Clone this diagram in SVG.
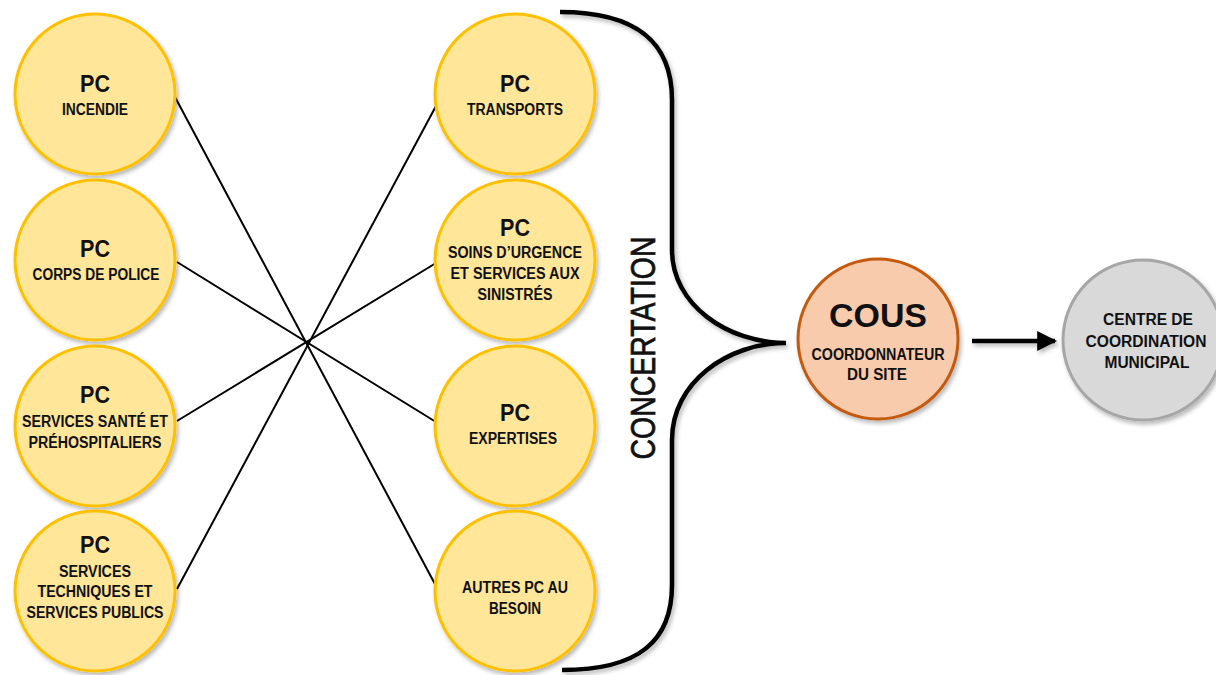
<svg xmlns="http://www.w3.org/2000/svg" width="1216" height="675" viewBox="0 0 1216 675">
  <defs>
    <filter id="shadow" x="-20%" y="-20%" width="140%" height="140%">
      <feDropShadow dx="2" dy="3" stdDeviation="2" flood-color="#000" flood-opacity="0.28"/>
    </filter>
    <!-- user-space region so zero-height lines still render through the filter -->
    <filter id="shadowLine" filterUnits="userSpaceOnUse" x="0" y="0" width="1216" height="675">
      <feDropShadow dx="2" dy="3" stdDeviation="2" flood-color="#000" flood-opacity="0.28"/>
    </filter>
    <marker id="arrowhead" viewBox="0 0 10 10" refX="9" refY="5" markerWidth="4.4" markerHeight="4.4" orient="auto" markerUnits="strokeWidth">
      <path d="M0,0 L10,5 L0,10 Z" fill="#000"/>
    </marker>
    <style>
      .pc { fill: #ffe699; stroke: #ffc000; stroke-width: 3; filter: url(#shadow); }
      .cous { fill: #f8cbad; stroke: #c55a11; stroke-width: 3; filter: url(#shadow); }
      .ccm { fill: #d9d9d9; stroke: #a6a6a6; stroke-width: 3; filter: url(#shadow); }
      text { font-family: "Liberation Sans Narrow", "Liberation Sans", Arial, sans-serif; font-weight: bold; fill: #111; text-anchor: middle; }
      .big { font-size: 24px; }
      .lbl { font-size: 16px; }
      .cous-t { font-size: 34px; }
      .link { stroke: #000; stroke-width: 2; fill: none; }
      .brace { stroke: #000; stroke-width: 4.5; fill: none; filter: url(#shadowLine); }
      .side { font-size: 35px; font-weight: normal; stroke: #111; stroke-width: 0.7; }
    </style>
  </defs>

  <rect width="1216" height="675" fill="#fff"/>

  <!-- crossing connectors between the two columns, brace and output arrow -->
  <g id="connectors">
    <line class="link" x1="175" y1="97" x2="436" y2="586"/>
    <line class="link" x1="177" y1="262" x2="436" y2="422"/>
    <line class="link" x1="177" y1="421" x2="436" y2="263"/>
    <line class="link" x1="177" y1="589" x2="436" y2="106"/>
    <path class="brace" d="M560,12 C640,12 672,45 672,100 L672,250 C672,305 728,343 786,343 C728,343 672,382 672,440 L672,585 C672,640 640,670 562,670"/>
    <line x1="972" y1="341" x2="1055" y2="341" stroke="#000" stroke-width="4.5" marker-end="url(#arrowhead)" filter="url(#shadowLine)"/>
  </g>

  <text id="concertation" class="side" transform="translate(655,348) rotate(-90)" textLength="223" lengthAdjust="spacingAndGlyphs">CONCERTATION</text>

  <!-- left column -->
  <g id="pc-incendie">
    <circle class="pc" cx="95" cy="94" r="80"/>
    <text class="big" x="95" y="92" textLength="30" lengthAdjust="spacingAndGlyphs">PC</text>
    <text class="lbl" x="95" y="115" textLength="66" lengthAdjust="spacingAndGlyphs">INCENDIE</text>
  </g>
  <g id="pc-police">
    <circle class="pc" cx="95" cy="260" r="80"/>
    <text class="big" x="95" y="257" textLength="30" lengthAdjust="spacingAndGlyphs">PC</text>
    <text class="lbl" x="96" y="280" textLength="127" lengthAdjust="spacingAndGlyphs">CORPS DE POLICE</text>
  </g>
  <g id="pc-sante">
    <circle class="pc" cx="95" cy="426" r="80"/>
    <text class="big" x="95" y="403" textLength="30" lengthAdjust="spacingAndGlyphs">PC</text>
    <text class="lbl" x="95" y="427" textLength="146" lengthAdjust="spacingAndGlyphs">SERVICES SANTÉ ET</text>
    <text class="lbl" x="95" y="448" textLength="133" lengthAdjust="spacingAndGlyphs">PRÉHOSPITALIERS</text>
  </g>
  <g id="pc-techniques">
    <circle class="pc" cx="95" cy="591" r="80"/>
    <text class="big" x="95" y="553" textLength="30" lengthAdjust="spacingAndGlyphs">PC</text>
    <text class="lbl" x="95" y="577" textLength="72" lengthAdjust="spacingAndGlyphs">SERVICES</text>
    <text class="lbl" x="95" y="597" textLength="115" lengthAdjust="spacingAndGlyphs">TECHNIQUES ET</text>
    <text class="lbl" x="95" y="618" textLength="137" lengthAdjust="spacingAndGlyphs">SERVICES PUBLICS</text>
  </g>

  <!-- middle column -->
  <g id="pc-transports">
    <circle class="pc" cx="515" cy="94" r="80"/>
    <text class="big" x="515" y="92" textLength="30" lengthAdjust="spacingAndGlyphs">PC</text>
    <text class="lbl" x="515" y="115" textLength="96" lengthAdjust="spacingAndGlyphs">TRANSPORTS</text>
  </g>
  <g id="pc-soins">
    <circle class="pc" cx="515" cy="260" r="80"/>
    <text class="big" x="515" y="236" textLength="30" lengthAdjust="spacingAndGlyphs">PC</text>
    <text class="lbl" x="515" y="258" textLength="134" lengthAdjust="spacingAndGlyphs">SOINS D’URGENCE</text>
    <text class="lbl" x="515" y="279" textLength="129" lengthAdjust="spacingAndGlyphs">ET SERVICES AUX</text>
    <text class="lbl" x="515" y="300" textLength="75" lengthAdjust="spacingAndGlyphs">SINISTRÉS</text>
  </g>
  <g id="pc-expertises">
    <circle class="pc" cx="515" cy="426" r="80"/>
    <text class="big" x="515" y="421" textLength="30" lengthAdjust="spacingAndGlyphs">PC</text>
    <text class="lbl" x="513" y="444" textLength="88" lengthAdjust="spacingAndGlyphs">EXPERTISES</text>
  </g>
  <g id="pc-autres">
    <circle class="pc" cx="515" cy="591" r="80"/>
    <text class="lbl" x="515" y="593" textLength="106" lengthAdjust="spacingAndGlyphs">AUTRES PC AU</text>
    <text class="lbl" x="515" y="614" textLength="52" lengthAdjust="spacingAndGlyphs">BESOIN</text>
  </g>

  <!-- site coordinator -->
  <g id="cous">
    <circle class="cous" cx="878" cy="339" r="80"/>
    <text class="cous-t" x="878" y="327" textLength="98" lengthAdjust="spacingAndGlyphs">COUS</text>
    <text class="lbl" x="878" y="360" textLength="133" lengthAdjust="spacingAndGlyphs">COORDONNATEUR</text>
    <text class="lbl" x="877" y="380" textLength="60" lengthAdjust="spacingAndGlyphs">DU SITE</text>
  </g>

  <!-- municipal coordination centre -->
  <g id="centre-municipal">
    <circle class="ccm" cx="1143" cy="340" r="80"/>
    <text class="lbl" x="1148" y="325" textLength="90" lengthAdjust="spacingAndGlyphs">CENTRE DE</text>
    <text class="lbl" x="1146" y="347" textLength="121" lengthAdjust="spacingAndGlyphs">COORDINATION</text>
    <text class="lbl" x="1147" y="368" textLength="85" lengthAdjust="spacingAndGlyphs">MUNICIPAL</text>
  </g>
</svg>
